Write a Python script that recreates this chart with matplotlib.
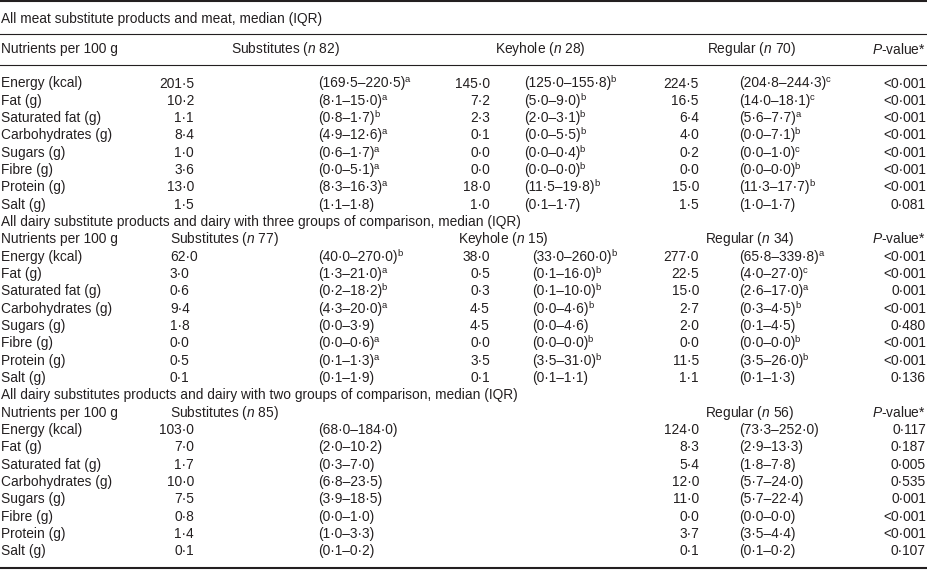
import matplotlib
matplotlib.use('Agg')
import matplotlib.pyplot as plt

plt.rcParams['font.family'] = 'Liberation Sans'
plt.rcParams['mathtext.fontset'] = 'custom'
plt.rcParams['mathtext.rm'] = 'Liberation Sans'
plt.rcParams['mathtext.it'] = 'Liberation Sans:italic'

nutrients = ['Energy (kcal)', 'Fat (g)', 'Saturated fat (g)', 'Carbohydrates (g)',
             'Sugars (g)', 'Fibre (g)', 'Protein (g)', 'Salt (g)']

# meat: substitutes / keyhole / regular
meat_sub_med = [201.5, 10.2, 1.1, 8.4, 1.0, 3.6, 13.0, 1.5]
meat_sub_iqr = [(169.5, 220.5), (8.1, 15.0), (0.8, 1.7), (4.9, 12.6), (0.6, 1.7), (0.0, 5.1), (8.3, 16.3), (1.1, 1.8)]
meat_sub_sig = ['a', 'a', 'b', 'a', 'a', 'a', 'a', '']
meat_key_med = [145.0, 7.2, 2.3, 0.1, 0.0, 0.0, 18.0, 1.0]
meat_key_iqr = [(125.0, 155.8), (5.0, 9.0), (2.0, 3.1), (0.0, 5.5), (0.0, 0.4), (0.0, 0.0), (11.5, 19.8), (0.1, 1.7)]
meat_key_sig = ['b', 'b', 'b', 'b', 'b', 'b', 'b', '']
meat_reg_med = [224.5, 16.5, 6.4, 4.0, 0.2, 0.0, 15.0, 1.5]
meat_reg_iqr = [(204.8, 244.3), (14.0, 18.1), (5.6, 7.7), (0.0, 7.1), (0.0, 1.0), (0.0, 0.0), (11.3, 17.7), (1.0, 1.7)]
meat_reg_sig = ['c', 'c', 'a', 'b', 'c', 'b', 'b', '']
meat_p = ['<0·001'] * 7 + ['0·081']

# dairy, three groups
dairy3_sub_med = [62.0, 3.0, 0.6, 9.4, 1.8, 0.0, 0.5, 0.1]
dairy3_sub_iqr = [(40.0, 270.0), (1.3, 21.0), (0.2, 18.2), (4.3, 20.0), (0.0, 3.9), (0.0, 0.6), (0.1, 1.3), (0.1, 1.9)]
dairy3_sub_sig = ['b', 'a', 'b', 'a', '', 'a', 'a', '']
dairy3_key_med = [38.0, 0.5, 0.3, 4.5, 4.5, 0.0, 3.5, 0.1]
dairy3_key_iqr = [(33.0, 260.0), (0.1, 16.0), (0.1, 10.0), (0.0, 4.6), (0.0, 4.6), (0.0, 0.0), (3.5, 31.0), (0.1, 1.1)]
dairy3_key_sig = ['b', 'b', 'b', 'b', '', 'b', 'b', '']
dairy3_reg_med = [277.0, 22.5, 15.0, 2.7, 2.0, 0.0, 11.5, 1.1]
dairy3_reg_iqr = [(65.8, 339.8), (4.0, 27.0), (2.6, 17.0), (0.3, 4.5), (0.1, 4.5), (0.0, 0.0), (3.5, 26.0), (0.1, 1.3)]
dairy3_reg_sig = ['a', 'c', 'a', 'b', '', 'b', 'b', '']
dairy3_p = ['<0·001', '<0·001', '0·001', '<0·001', '0·480', '<0·001', '<0·001', '0·136']

# dairy, two groups
dairy2_sub_med = [103.0, 7.0, 1.7, 10.0, 7.5, 0.8, 1.4, 0.1]
dairy2_sub_iqr = [(68.0, 184.0), (2.0, 10.2), (0.3, 7.0), (6.8, 23.5), (3.9, 18.5), (0.0, 1.0), (1.0, 3.3), (0.1, 0.2)]
dairy2_reg_med = [124.0, 8.3, 5.4, 12.0, 11.0, 0.0, 3.7, 0.1]
dairy2_reg_iqr = [(73.3, 252.0), (2.9, 13.3), (1.8, 7.8), (5.7, 24.0), (5.7, 22.4), (0.0, 0.0), (3.5, 4.4), (0.1, 0.2)]
dairy2_p = ['0·117', '0·187', '0·005', '0·535', '0·001', '<0·001', '<0·001', '0·107']

titles = ['All meat substitute products and meat, median (IQR)',
          'All dairy substitute products and dairy with three groups of comparison, median (IQR)',
          'All dairy substitutes products and dairy with two groups of comparison, median (IQR)']


def fmt(v):
    return f'{v:.1f}'.replace('.', '·')


def iqr(rng):
    return f'({fmt(rng[0])}–{fmt(rng[1])})'


fs = 9.9
col = '#231f20'
fig = plt.figure(figsize=(9.28, 5.73), dpi=100)
ax = fig.add_axes([0, 0, 1, 1])
ax.set_xlim(0, 928)
ax.set_ylim(573, 0)
ax.axis('off')
renderer = fig.canvas.get_renderer()


def txt(x, y, s, ha='left', sig=''):
    t = ax.text(x, y, s, ha=ha, va='baseline', fontsize=fs, color=col)
    if sig:
        # small raised letter right after the closing bracket
        bb = t.get_window_extent(renderer=renderer)
        xr = ax.transData.inverted().transform((bb.x1, bb.y0))[0]
        ax.text(xr - 0.5, y - 5, sig, ha='left', va='baseline', fontsize=6.8, color=col)


pitch = 17.33
y0 = 87.5

# rules
ax.plot([0, 928], [1, 1], color=col, lw=1.5)
ax.plot([0, 928], [34, 34], color=col, lw=0.8)
ax.plot([0, 928], [64.5, 64.5], color=col, lw=0.8)
ax.plot([0, 928], [567.5, 567.5], color=col, lw=1.5)

# section 1
txt(1, 22.5, titles[0])
txt(1, 53.5, 'Nutrients per 100 g')
txt(285, 53.5, 'Substitutes ($n$ 82)', 'center')
txt(540, 53.5, 'Keyhole ($n$ 28)', 'center')
txt(752, 53.5, 'Regular ($n$ 70)', 'center')
txt(926, 53.5, '$P$-value*', 'right')
for i, name in enumerate(nutrients):
    y = y0 + i * pitch
    txt(1, y, name)
    txt(194, y, fmt(meat_sub_med[i]), 'right')
    txt(318, y, iqr(meat_sub_iqr[i]), sig=meat_sub_sig[i])
    txt(490, y, fmt(meat_key_med[i]), 'right')
    txt(524, y, iqr(meat_key_iqr[i]), sig=meat_key_sig[i])
    txt(699, y, fmt(meat_reg_med[i]), 'right')
    txt(739, y, iqr(meat_reg_iqr[i]), sig=meat_reg_sig[i])
    txt(926, y, meat_p[i], 'right')

# section 2
yt = y0 + 8 * pitch
txt(1, yt, titles[1])
txt(1, yt + pitch, 'Nutrients per 100 g')
txt(170, yt + pitch, 'Substitutes ($n$ 77)')
txt(458, yt + pitch, 'Keyhole ($n$ 15)')
txt(705, yt + pitch, 'Regular ($n$ 34)')
txt(926, yt + pitch, '$P$-value*', 'right')
for i, name in enumerate(nutrients):
    y = yt + (i + 2) * pitch
    txt(1, y, name)
    txt(170, y, fmt(dairy3_sub_med[i]))
    txt(318, y, iqr(dairy3_sub_iqr[i]), sig=dairy3_sub_sig[i])
    txt(490, y, fmt(dairy3_key_med[i]), 'right')
    txt(532, y, iqr(dairy3_key_iqr[i]), sig=dairy3_key_sig[i])
    txt(699, y, fmt(dairy3_reg_med[i]), 'right')
    txt(739, y, iqr(dairy3_reg_iqr[i]), sig=dairy3_reg_sig[i])
    txt(926, y, dairy3_p[i], 'right')

# section 3
yt = y0 + 18 * pitch
txt(1, yt, titles[2])
txt(1, yt + pitch, 'Nutrients per 100 g')
txt(170, yt + pitch, 'Substitutes ($n$ 85)')
txt(705, yt + pitch, 'Regular ($n$ 56)')
txt(926, yt + pitch, '$P$-value*', 'right')
for i, name in enumerate(nutrients):
    y = yt + (i + 2) * pitch
    txt(1, y, name)
    txt(194, y, fmt(dairy2_sub_med[i]), 'right')
    txt(318, y, iqr(dairy2_sub_iqr[i]))
    txt(699, y, fmt(dairy2_reg_med[i]), 'right')
    txt(739, y, iqr(dairy2_reg_iqr[i]))
    txt(926, y, dairy2_p[i], 'right')

plt.savefig('out.png', dpi=100)
